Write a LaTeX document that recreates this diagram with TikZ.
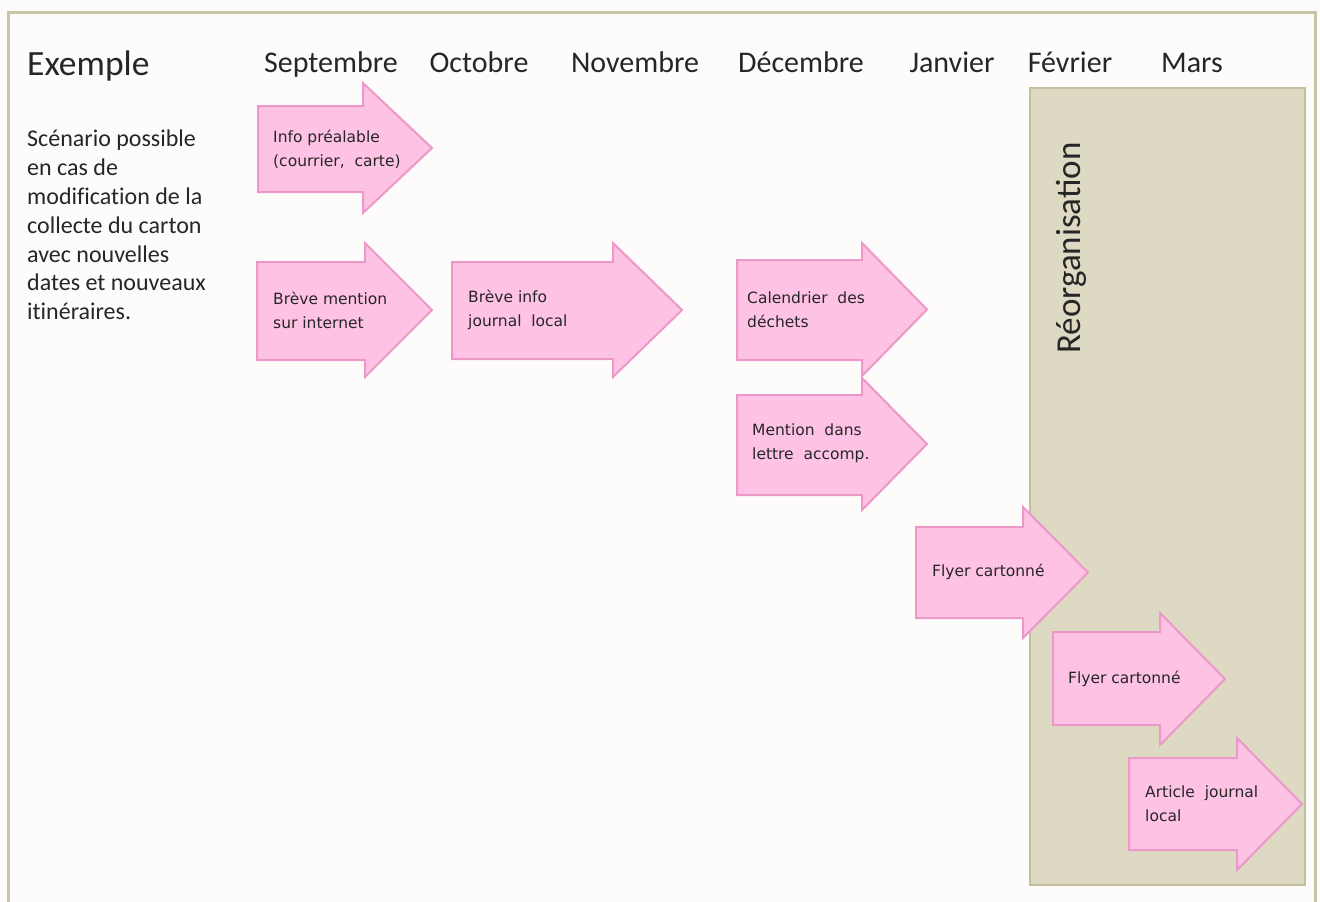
\documentclass[tikz,border=0pt]{standalone}
\usepackage{fontspec}
\setmainfont{Carlito}
\newfontfamily\arrowfont{DejaVu Sans}
\definecolor{bgc}{HTML}{FDFCFA}
\definecolor{framec}{HTML}{C9C4A6}
\definecolor{tanfill}{HTML}{DDD9C3}
\definecolor{tanline}{HTML}{C4BE9E}
\definecolor{pinkfill}{HTML}{FEC3E4}
\definecolor{pinkline}{HTML}{EC98C8}
\definecolor{txt}{HTML}{262626}
\tikzset{
  parrow/.style={fill=pinkfill, draw=pinkline, line width=2pt, line join=miter},
  month/.style={anchor=base, inner sep=0pt, text=txt, font=\fontsize{30}{36}\selectfont},
  atext/.style={anchor=west, align=left, inner sep=0pt, text=txt, font=\arrowfont\fontsize{15.5}{24}\selectfont},
}
\newcommand\pinkarrow[7]{%
  \filldraw[parrow] (#1,#2) -- (#4,#2) -- (#4,#5) -- (#7,{(#5+#6)/2}) -- (#4,#6) -- (#4,#3) -- (#1,#3) -- cycle;}
\begin{document}
\begin{tikzpicture}[x=1pt,y=-1pt]
\useasboundingbox (0,0) rectangle (1320,902);
\clip (0,0) rectangle (1320,902);
\fill[bgc] (0,0) rectangle (1320,902);
\draw[framec, line width=3pt] (8.5,12) rectangle (1315,915);

% title and description
\node[anchor=base west, inner sep=0pt, text=txt, font=\fontsize{35.5}{40}\selectfont] (title) at (27,75) {Exemple};
\node[anchor=north west, align=left, inner sep=0pt, text=txt, font=\addfontfeatures{Ligatures=NoCommon}\fontsize{24}{28.8}\selectfont] (desc) at (27,130)
  {Scénario possible\\en cas de\\modification de la\\collecte du carton\\avec nouvelles\\dates et nouveaux\\itinéraires.};

% months
\node[month] (sep) at (331,72) {Septembre};
\node[month] (oct) at (479,72) {Octobre};
\node[month] (nov) at (635,72) {Novembre};
\node[month] (dec) at (801,72) {Décembre};
\node[month] (jan) at (952,72) {Janvier};
\node[month] (fev) at (1070,72) {Février};
\node[month] (mar) at (1192,72) {Mars};

% reorganisation box
\filldraw[fill=tanfill, draw=tanline, line width=2.5pt] (1030,88) rectangle (1305,885);
\node[rotate=90, inner sep=0pt, text=txt, font=\fontsize{35}{40}\selectfont] (reorg) at (1071,248) {Réorganisation};

% arrows
\pinkarrow{258}{106}{192}{363}{83}{213}{432}
\node[atext] (a1) at (273,149) {Info préalable\\(courrier,~ carte)};
\pinkarrow{257}{262}{360}{365}{243}{377}{432}
\node[atext] (a2) at (273,310) {Brève mention\\sur internet};
\pinkarrow{452}{262}{359}{613}{243}{377}{682}
\node[atext] (a3) at (468,310) {Brève info\\journal~ local};
\pinkarrow{737}{260}{360}{862}{243}{376}{927}
\node[atext] (a4) at (747,310) {Calendrier~ des\\déchets};
\pinkarrow{737}{395}{495}{862}{378}{510}{927}
\node[atext] (a5) at (752,443) {Mention~ dans\\lettre~ accomp.};
\pinkarrow{916}{527}{618}{1023}{507}{638}{1088}
\node[atext] (a6) at (932,572) {Flyer cartonné};
\pinkarrow{1053}{632}{725}{1160}{613}{745}{1225}
\node[atext] (a7) at (1068,679) {Flyer cartonné};
\pinkarrow{1129}{758}{850}{1237}{738}{870}{1302}
\node[atext] (a8) at (1145,804) {Article~ journal\\local};
\end{tikzpicture}
\end{document}
